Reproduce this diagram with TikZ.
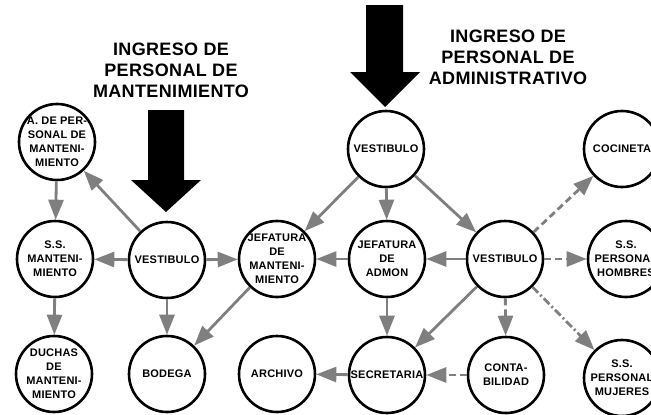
\documentclass[tikz,border=0pt]{standalone}
\usepackage{fontspec}
\setsansfont{Liberation Sans}[LetterSpace=2]
\usepackage{xcolor}
\definecolor{flow}{HTML}{7F7F7F}
\definecolor{ink}{HTML}{000000}
\usetikzlibrary{arrows.meta}

\begin{document}
\begin{tikzpicture}[
  x=1pt,y=-1pt,
  room/.style={circle,draw=ink,line width=2.6pt,fill=white,minimum size=76pt,inner sep=0pt},
  txt/.style={font=\sffamily\bfseries\fontsize{11}{14}\selectfont,align=center,inner sep=0pt,text=ink},
  ttl/.style={font=\sffamily\bfseries\fontsize{18}{21}\selectfont,align=center,text=ink},
  link/.style={-{Triangle[length=20pt,width=15pt]},flow,line width=2.8pt},
  aux/.style={link,dash pattern=on 7pt off 4pt},
  auxdot/.style={link,dash pattern=on 8pt off 3pt on 2pt off 3pt},
]
\useasboundingbox (0,0) rectangle (651,415);

% entrances
\node[ttl] (tmant) at (171,70) {INGRESO DE\\PERSONAL DE\\MANTENIMIENTO};
\node[ttl] (tadm) at (508,57) {INGRESO DE\\PERSONAL DE\\ADMINISTRATIVO};
\fill[ink] (148,110) -- (184,110) -- (184,180) -- (201,180) -- (166,212) -- (131,180) -- (148,180) -- cycle;
\fill[ink] (366,5) -- (403,5) -- (403,72) -- (420,72) -- (385,107) -- (350,72) -- (366,72) -- cycle;

% maintenance wing
\node[room,label={[txt]center:{A. DE PER-\\SONAL DE\\MANTENI-\\MIENTO}}] (adp) at (57,142) {};
\node[room,label={[txt]center:{S.S.\\MANTENI-\\MIENTO}}] (ssm) at (55,259) {};
\node[room,label={[txt]center:{DUCHAS\\DE\\MANTENI-\\MIENTO}}] (duc) at (54,374) {};
\node[room,label={[txt]center:VESTIBULO}] (vl) at (167,260) {};
\node[room,label={[txt]center:BODEGA}] (bod) at (167,374) {};
\node[room,label={[txt]center:{JEFATURA\\DE\\MANTENI-\\MIENTO}}] (jm) at (277,259) {};
\node[room,label={[txt]center:ARCHIVO}] (arc) at (277,374) {};

% administration wing
\node[room,label={[txt]center:VESTIBULO}] (vt) at (386,149) {};
\node[room,label={[txt]center:COCINETA}] (coc) at (622,149) {};
\node[room,label={[txt]center:{JEFATURA\\DE\\ADMON}}] (ja) at (387,259) {};
\node[room,label={[txt]center:VESTIBULO}] (vr) at (505,259) {};
\node[room,label={[txt]center:{S.S.\\PERSONAL\\HOMBRES}}] (ssh) at (626,259) {};
\node[room,label={[txt]center:SECRETARIA}] (sec) at (387,375) {};
\node[room,label={[txt]center:{CONTA-\\BILIDAD}}] (cont) at (506,375) {};
\node[room,label={[txt]center:{S.S.\\PERSONAL\\MUJERES}}] (ssmu) at (622,378) {};

% circulation
\draw[link] (vl) -- (adp);
\draw[link] (adp) -- (ssm);
\draw[link] (vl) -- (ssm);
\draw[link] (ssm) -- (duc);
\draw[link] (vl) -- (jm);
\draw[link] (vl) -- (bod);
\draw[link] (jm) -- (bod);
\draw[link] (vt) -- (jm);
\draw[link] (vt) -- (ja);
\draw[link] (vt) -- (vr);
\draw[link] (ja) -- (jm);
\draw[link] (vr) -- (ja);
\draw[link] (ja) -- (sec);
\draw[link] (vr) -- (sec);
\draw[link] (sec) -- (arc);
\draw[aux]  (cont) -- (sec);
\draw[aux]  (vr) -- (cont);
\draw[aux]  (vr) -- (coc);
\draw[aux]  (vr) -- (ssh);
\draw[auxdot] (vr) -- (ssmu);
\end{tikzpicture}
\end{document}
